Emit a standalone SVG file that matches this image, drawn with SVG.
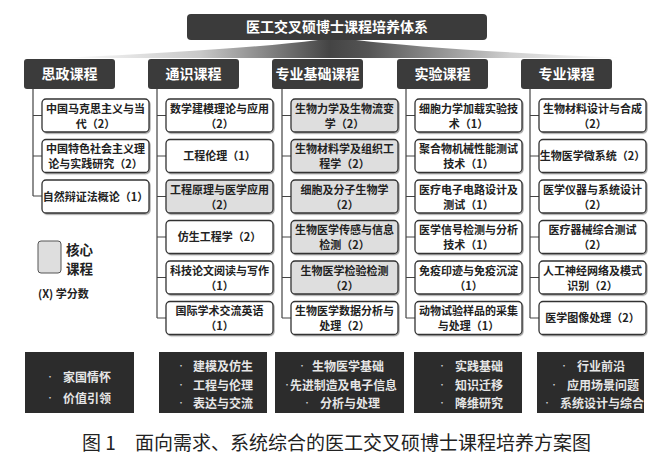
<svg xmlns="http://www.w3.org/2000/svg" width="671" height="465" viewBox="0 0 671 465">
<defs>
<linearGradient id="fan" x1="0" y1="0" x2="1" y2="0">
<stop offset="0" stop-color="#ffffff"/>
<stop offset="0.25" stop-color="#c8c8c8"/>
<stop offset="0.48" stop-color="#444444"/>
<stop offset="0.55" stop-color="#555555"/>
<stop offset="0.8" stop-color="#cfcfcf"/>
<stop offset="1" stop-color="#ffffff"/>
</linearGradient>
<filter id="sh" x="-5%" y="-5%" width="115%" height="125%">
<feDropShadow dx="1" dy="1.2" stdDeviation="0.7" flood-color="#000" flood-opacity="0.35"/>
</filter>
</defs>
<style>
text{font-family:"Noto Sans CJK SC","Liberation Sans",sans-serif;}
.hd{fill:#3b3b3b;}
.ht{fill:#fff;font-size:14px;font-weight:bold;text-anchor:middle;}
.bx{fill:#fff;stroke:#333;stroke-width:1.3;filter:url(#sh);}
.core{fill:#dedede;}
.bt{fill:#222;font-size:11px;font-weight:bold;text-anchor:middle;}
.ln{stroke:#444;stroke-width:1.2;fill:none;}
.db{fill:#2c2c2c;}
.dt{fill:#e6e6e6;font-size:12px;font-weight:bold;}
.dot{fill:#cfcfcf;font-size:8px;}
</style>
<rect width="671" height="465" fill="#fff"/>

<g id="connectors">
<path d="M60 58 Q240 50 318 40 L356 40 Q440 50 622 58 Z" fill="url(#fan)"/>
<path class="ln" d="M33 89 V196 M33 115.5 H42 M33 156 H42 M33 196 H42"/>
<path class="ln" d="M157 89 V318 M157 115.5 H166 M157 156 H166 M157 196.5 H166 M157 237 H166 M157 277.5 H166 M157 318 H166"/>
<path class="ln" d="M282 89 V318 M282 115.5 H291 M282 156 H291 M282 196.5 H291 M282 237 H291 M282 277.5 H291 M282 318 H291"/>
<path class="ln" d="M406 89 V318 M406 115.5 H415 M406 156 H415 M406 196.5 H415 M406 237 H415 M406 277.5 H415 M406 318 H415"/>
<path class="ln" d="M530 89 V318 M530 115.5 H539 M530 156 H539 M530 196.5 H539 M530 237 H539 M530 277.5 H539 M530 318 H539"/>
</g>

<g id="title">
<rect x="187" y="14" width="300" height="26" rx="4" class="hd"/>
<text x="337" y="32" class="ht">医工交叉硕博士课程培养体系</text>
</g>

<g id="h1"><rect x="24" y="59" width="91" height="30" rx="3" class="hd"/><text x="69.5" y="79" class="ht">思政课程</text></g>
<g id="h2"><rect x="148" y="59" width="91" height="30" rx="3" class="hd"/><text x="193.5" y="79" class="ht">通识课程</text></g>
<g id="h3"><rect x="272" y="59" width="91" height="30" rx="3" class="hd"/><text x="317.5" y="79" class="ht">专业基础课程</text></g>
<g id="h4"><rect x="397" y="59" width="91" height="30" rx="3" class="hd"/><text x="442.5" y="79" class="ht">实验课程</text></g>
<g id="h5"><rect x="521" y="59" width="91" height="30" rx="3" class="hd"/><text x="566.5" y="79" class="ht">专业课程</text></g>

<!-- column 1 -->
<g id="c1r1"><rect x="42" y="99" width="107" height="33" rx="4" class="bx"/><text x="95.5" y="112.5" class="bt">中国马克思主义与当<tspan x="95.5" dy="15">代（2）</tspan></text></g>
<g id="c1r2"><rect x="42" y="139.5" width="107" height="33" rx="4" class="bx"/><text x="95.5" y="153" class="bt">中国特色社会主义理<tspan x="95.5" dy="15">论与实践研究（2）</tspan></text></g>
<g id="c1r3"><rect x="42" y="180" width="107" height="33" rx="4" class="bx"/><text x="95.5" y="200.5" class="bt">自然辩证法概论（1）</text></g>

<!-- column 2 -->
<g id="c2r1"><rect x="166" y="99" width="107" height="33" rx="4" class="bx"/><text x="219.5" y="112.5" class="bt">数学建模理论与应用<tspan x="219.5" dy="15">（2）</tspan></text></g>
<g id="c2r2"><rect x="166" y="139.5" width="107" height="33" rx="4" class="bx"/><text x="219.5" y="160" class="bt">工程伦理（1）</text></g>
<g id="c2r3"><rect x="166" y="180" width="107" height="33" rx="4" class="bx core"/><text x="219.5" y="193.5" class="bt">工程原理与医学应用<tspan x="219.5" dy="15">（2）</tspan></text></g>
<g id="c2r4"><rect x="166" y="220.5" width="107" height="33" rx="4" class="bx"/><text x="219.5" y="241" class="bt">仿生工程学（2）</text></g>
<g id="c2r5"><rect x="166" y="261" width="107" height="33" rx="4" class="bx"/><text x="219.5" y="274.5" class="bt">科技论文阅读与写作<tspan x="219.5" dy="15">（1）</tspan></text></g>
<g id="c2r6"><rect x="166" y="301.5" width="107" height="33" rx="4" class="bx"/><text x="219.5" y="315" class="bt">国际学术交流英语<tspan x="219.5" dy="15">（1）</tspan></text></g>

<!-- column 3 -->
<g id="c3r1"><rect x="291" y="99" width="107" height="33" rx="4" class="bx core"/><text x="344.5" y="112.5" class="bt">生物力学及生物流变<tspan x="344.5" dy="15">学（2）</tspan></text></g>
<g id="c3r2"><rect x="291" y="139.5" width="107" height="33" rx="4" class="bx core"/><text x="344.5" y="153" class="bt">生物材料学及组织工<tspan x="344.5" dy="15">程学（2）</tspan></text></g>
<g id="c3r3"><rect x="291" y="180" width="107" height="33" rx="4" class="bx core"/><text x="344.5" y="193.5" class="bt">细胞及分子生物学<tspan x="344.5" dy="15">（2）</tspan></text></g>
<g id="c3r4"><rect x="291" y="220.5" width="107" height="33" rx="4" class="bx core"/><text x="344.5" y="234" class="bt">生物医学传感与信息<tspan x="344.5" dy="15">检测（2）</tspan></text></g>
<g id="c3r5"><rect x="291" y="261" width="107" height="33" rx="4" class="bx core"/><text x="344.5" y="274.5" class="bt">生物医学检验检测<tspan x="344.5" dy="15">（2）</tspan></text></g>
<g id="c3r6"><rect x="291" y="301.5" width="107" height="33" rx="4" class="bx"/><text x="344.5" y="315" class="bt">生物医学数据分析与<tspan x="344.5" dy="15">处理（2）</tspan></text></g>

<!-- column 4 -->
<g id="c4r1"><rect x="415" y="99" width="107" height="33" rx="4" class="bx"/><text x="468.5" y="112.5" class="bt">细胞力学加载实验技<tspan x="468.5" dy="15">术（1）</tspan></text></g>
<g id="c4r2"><rect x="415" y="139.5" width="107" height="33" rx="4" class="bx"/><text x="468.5" y="153" class="bt">聚合物机械性能测试<tspan x="468.5" dy="15">技术（1）</tspan></text></g>
<g id="c4r3"><rect x="415" y="180" width="107" height="33" rx="4" class="bx"/><text x="468.5" y="193.5" class="bt">医疗电子电路设计及<tspan x="468.5" dy="15">测试（1）</tspan></text></g>
<g id="c4r4"><rect x="415" y="220.5" width="107" height="33" rx="4" class="bx"/><text x="468.5" y="234" class="bt">医学信号检测与分析<tspan x="468.5" dy="15">技术（1）</tspan></text></g>
<g id="c4r5"><rect x="415" y="261" width="107" height="33" rx="4" class="bx"/><text x="468.5" y="274.5" class="bt">免疫印迹与免疫沉淀<tspan x="468.5" dy="15">（1）</tspan></text></g>
<g id="c4r6"><rect x="415" y="301.5" width="107" height="33" rx="4" class="bx"/><text x="468.5" y="315" class="bt">动物试验样品的采集<tspan x="468.5" dy="15">与处理（1）</tspan></text></g>

<!-- column 5 -->
<g id="c5r1"><rect x="539" y="99" width="107" height="33" rx="4" class="bx"/><text x="592.5" y="112.5" class="bt">生物材料设计与合成<tspan x="592.5" dy="15">（2）</tspan></text></g>
<g id="c5r2"><rect x="539" y="139.5" width="107" height="33" rx="4" class="bx"/><text x="592.5" y="160" class="bt" font-size="10.5">生物医学微系统（2）</text></g>
<g id="c5r3"><rect x="539" y="180" width="107" height="33" rx="4" class="bx"/><text x="592.5" y="193.5" class="bt">医学仪器与系统设计<tspan x="592.5" dy="15">（2）</tspan></text></g>
<g id="c5r4"><rect x="539" y="220.5" width="107" height="33" rx="4" class="bx"/><text x="592.5" y="234" class="bt">医疗器械综合测试<tspan x="592.5" dy="15">（2）</tspan></text></g>
<g id="c5r5"><rect x="539" y="261" width="107" height="33" rx="4" class="bx"/><text x="592.5" y="274.5" class="bt">人工神经网络及模式<tspan x="592.5" dy="15">识别（2）</tspan></text></g>
<g id="c5r6"><rect x="539" y="301.5" width="107" height="33" rx="4" class="bx"/><text x="592.5" y="322" class="bt">医学图像处理（2）</text></g>

<!-- legend -->
<g id="legend">
<rect x="38" y="241" width="23" height="32" rx="3" fill="#dedede" stroke="#555" stroke-width="1"/>
<text x="66" y="255" font-size="13.5" font-weight="bold" fill="#222">核心</text>
<text x="66" y="274" font-size="13.5" font-weight="bold" fill="#222">课程</text>
<text x="38" y="298" font-size="11" font-weight="bold" fill="#222">(X) 学分数</text>
</g>

<!-- bottom boxes -->
<g id="b1"><rect x="25" y="352" width="109" height="61" class="db"/>
<text x="46" y="380" class="dot">•</text><text x="63" y="381.5" class="dt">家国情怀</text>
<text x="46" y="401" class="dot">•</text><text x="63" y="402.5" class="dt">价值引领</text></g>
<g id="b2"><rect x="159" y="352" width="108" height="61" class="db"/>
<text x="177" y="369" class="dot">•</text><text x="193" y="370.5" class="dt">建模及仿生</text>
<text x="177" y="388" class="dot">•</text><text x="193" y="389.5" class="dt">工程与伦理</text>
<text x="177" y="406" class="dot">•</text><text x="193" y="407.5" class="dt">表达与交流</text></g>
<g id="b3"><rect x="275" y="352" width="129" height="61" class="db"/>
<text x="298" y="369" class="dot">•</text><text x="312" y="370.5" class="dt">生物医学基础</text>
<text x="283" y="388" class="dot">•</text><text x="290" y="389.5" class="dt" textLength="107" lengthAdjust="spacingAndGlyphs">先进制造及电子信息</text>
<text x="303" y="406" class="dot">•</text><text x="320" y="407.5" class="dt">分析与处理</text></g>
<g id="b4"><rect x="414" y="352" width="108" height="61" class="db"/>
<text x="438" y="369" class="dot">•</text><text x="455" y="370.5" class="dt">实践基础</text>
<text x="438" y="388" class="dot">•</text><text x="455" y="389.5" class="dt">知识迁移</text>
<text x="438" y="406" class="dot">•</text><text x="455" y="407.5" class="dt">降维研究</text></g>
<g id="b5"><rect x="537" y="352" width="107" height="61" class="db"/>
<text x="560" y="369" class="dot">•</text><text x="577" y="370.5" class="dt">行业前沿</text>
<text x="550" y="388" class="dot">•</text><text x="567" y="389.5" class="dt">应用场景问题</text>
<text x="543" y="406" class="dot">•</text><text x="560" y="407.5" class="dt">系统设计与综合</text></g>

<!-- caption -->
<g id="caption">
<text x="82" y="450" font-size="19" fill="#222" font-family="'Liberation Serif','Noto Sans CJK SC',serif">图 1</text>
<text x="135" y="450" font-size="19" fill="#222" font-family="'Liberation Serif','Noto Sans CJK SC',serif">面向需求、系统综合的医工交叉硕博士课程培养方案图</text>
</g>
</svg>
